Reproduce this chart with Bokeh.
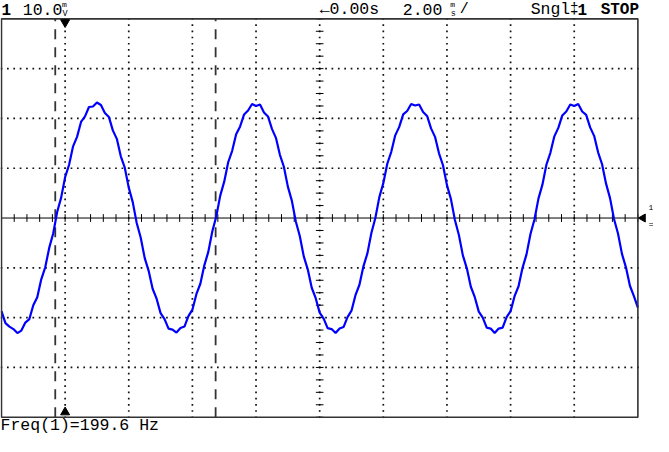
import numpy as np
from bokeh.plotting import figure
from bokeh.models import Range1d
from bokeh.embed import file_html
from bokeh.resources import INLINE
from bokeh.core.properties import value

# ---------------- data ----------------
sample_step_ms = 0.125
trace_mv = [
    -18.7, -21.1, -21.8, -22.3, -23.1, -22.6, -21.0, -20.3, -17.5, -15.9,
    -12.3, -9.9, -6.0, -3.1, 1.2, 4.1, 8.2, 10.7, 14.4, 16.3,
    19.3, 20.4, 22.3, 22.4, 23.2, 22.7, 21.1, 20.3, 17.6, 15.9,
    12.4, 10.1, 6.1, 3.2, -1.0, -3.9, -8.0, -10.6, -14.2, -16.2,
    -19.1, -20.3, -22.2, -22.4, -23.0, -22.1, -21.8, -19.7, -18.4, -15.3,
    -13.2, -9.5, -6.8, -2.7, 0.3, 4.5, 7.3, 11.2, 13.5, 16.8,
    18.4, 20.8, 21.6, 22.9, 22.5, 22.8, 21.2, 20.4, 17.9, 16.1,
    12.7, 10.3, 6.3, 3.5, -0.7, -3.6, -7.7, -10.3, -14.0, -16.1,
    -19.0, -20.2, -22.1, -22.3, -23.1, -22.2, -21.9, -19.9, -18.6, -15.5,
    -13.4, -9.7, -7.1, -3.0, 0.0, 4.2, 7.0, 10.9, 13.3, 16.6,
    18.3, 20.8, 21.5, 22.9, 22.6, 22.8, 21.3, 20.5, 18.0, 16.3,
    13.0, 10.6, 6.6, 3.8, -0.4, -3.4, -7.5, -10.1, -13.8, -15.9,
    -18.8, -20.0, -22.0, -22.2, -23.1, -22.2, -22.0, -19.9, -18.7, -15.7,
    -13.7, -10.0, -7.3, -3.2, -0.3, 3.9, 6.7, 10.7, 13.1, 16.4,
    18.1, 20.6, 21.4, 22.8, 22.5, 22.9, 21.4, 20.7, 18.2, 16.5,
    13.2, 10.8, 6.9, 4.0, -0.2, -3.1, -7.2, -9.9, -13.6, -15.7,
    -18.0,
]
trace_t = [-10.0 + sample_step_ms * i for i in range(len(trace_mv))]

time_per_div = 2.0      # ms/div
volts_per_div = 10.0    # mV/div
x_div_lines = [-8, -6, -4, -2, 2, 4, 6, 8]
y_div_lines = [-30, -20, -10, 10, 20, 30]
cursor_t = [-8.31, -3.27]
trig_marker_t = -8.0

hdr_ch = "1"
hdr_scale = "10.0"
hdr_delay = "\u21900.00s"
hdr_time = "2.00"
hdr_mode = "Sngl"
hdr_stop = "STOP"
footer = "Freq(1)=199.6 Hz"

# ---------------- figure: whole canvas in data coordinates ----------------
X0, X1 = -10.0307, 10.491
Y0, Y1 = -43.87, 43.68

p = figure(width=653, height=436, x_range=Range1d(X0, X1), y_range=Range1d(Y0, Y1),
           output_backend="svg", toolbar_location=None, min_border=0,
           x_axis_location=None, y_axis_location=None, outline_line_color=None,
           background_fill_color="white", border_fill_color="white")
p.grid.visible = False

XL, XR, YB, YT = -10, 10, -40, 40

# dotted graticule
vx, vy = [], []
for gx in x_div_lines + [0]:
    for v in np.arange(YB, YT + 0.01, volts_per_div / 8):
        vx.append(gx); vy.append(v)
for gy in y_div_lines:
    for t in np.arange(XL, XR + 0.01, time_per_div / 10):
        vx.append(t); vy.append(gy)
p.scatter(vx, vy, marker="square", size=1.7, fill_color="#111", line_color=None)

# centre horizontal line with ticks
p.segment(x0=[XL], y0=[0], x1=[XR], y1=[0], line_color="black", line_width=1)
tt = np.arange(XL, XR + 0.01, time_per_div / 5)
p.segment(x0=tt, y0=-0.78, x1=tt, y1=0.78, line_color="black", line_width=1)
# centre vertical ticks
vv = np.arange(YB, YT + 0.01, volts_per_div / 4)
p.segment(x0=-0.12, y0=vv, x1=0.12, y1=vv, line_color="black", line_width=1)

# cursors
p.segment(x0=cursor_t, y0=YB, x1=cursor_t, y1=YT, line_color="#333",
          line_width=1.8, line_dash="10 8")

# waveform
p.line(trace_t, trace_mv, line_color="#0000ff", line_width=2.2)

# frame
p.quad(left=XL, right=XR, bottom=YB, top=YT, fill_color=None,
       line_color="#333", line_width=1.6)

# trigger markers
p.scatter([trig_marker_t], [39.3], marker="inverted_triangle", size=9,
          fill_color="black", line_color="black")
p.scatter([trig_marker_t], [-39.0], marker="triangle", size=9,
          fill_color="black", line_color="black")

# channel ground marker at right
p.scatter([10.16], [0], marker="triangle", angle=np.pi / 2, size=8,
          fill_color="black", line_color="black")

mono = value("Liberation Mono")
hy = 41.8

def txt(x, y, s, size, bold=False, align="left"):
    p.text(x=[x], y=[y], text=[s], text_font=mono, text_font_size=f"{size}px",
           text_font_style="bold" if bold else "normal", text_color="black",
           text_align=align, text_baseline="middle")

txt(-10.0, hy, hdr_ch, 16, bold=True)
txt(-9.33, hy, hdr_scale, 16.5)
txt(-8.10, 42.8, "m", 8)
txt(-8.08, 41.0, "V", 8.5)
txt(0.0, hy, hdr_delay, 16.5)
txt(2.61, hy, hdr_time, 16.5)
txt(4.10, 42.8, "m", 8)
txt(4.12, 41.0, "s", 8.5)
txt(4.40, hy, "/", 15)
txt(6.63, hy, hdr_mode, 16.5)
txt(7.86, hy, "\u2021", 15)
txt(8.10, hy, hdr_ch, 16, bold=True)
txt(8.83, hy, hdr_stop, 16, bold=True)
txt(-10.03, -41.6, footer, 16.5)
txt(10.33, 2.2, "1", 8)
txt(10.33, -1.5, "=", 9)

open("out.html", "w").write(file_html(p, INLINE))
